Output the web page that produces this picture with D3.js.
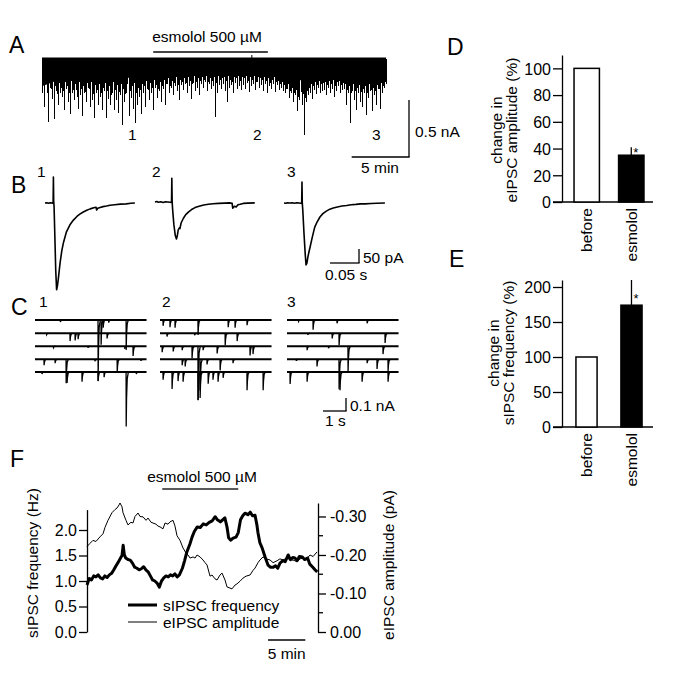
<!DOCTYPE html>
<html><head><meta charset="utf-8">
<script src="https://cdn.jsdelivr.net/npm/d3@7"></script>
<style>
body{margin:0;background:#fff}
svg{display:block;font-family:"Liberation Sans",Arial,Helvetica,sans-serif}
</style>
</head><body>
<svg id="fig" width="685" height="676"></svg>
<script>
// ---------------- DATA ----------------
// Panel A: continuous recording, 30 min
const aDurationMin = 30;
const aDrug = [9.7, 19.7];               // esmolol application (min)
const aArtifactTime = 18.3;               // small upward artifact (min)
const aBandDepth = [0.24,0.17,0.18,0.18,0.17,0.15,0.13,0.12,0.11,0.11,0.1,0.11,0.14,0.2,0.13,0.12,0.13,0.12]; // nA
const aSpikeDepth = [                     // nA, larger events, evenly sampled
0.30,0.42,0.22,0.55,0.25,0.35,0.53,0.28,0.40,0.30,
0.33,0.45,0.26,0.38,0.48,0.30,0.36,0.27,0.44,0.32,
0.50,0.30,0.38,0.25,0.42,0.36,0.52,0.30,0.40,0.33,
0.45,0.28,0.52,0.35,0.40,0.30,0.45,0.36,0.47,0.32,
0.58,0.38,0.30,0.50,0.34,0.44,0.56,0.40,0.33,0.48,
0.30,0.42,0.26,0.36,0.30,0.45,0.25,0.34,0.28,0.38,
0.26,0.40,0.22,0.30,0.25,0.32,0.24,0.28,0.36,0.23,
0.27,0.22,0.30,0.24,0.35,0.21,0.28,0.25,0.32,0.22,
0.25,0.20,0.28,0.22,0.26,0.24,0.51,0.30,0.23,0.26,
0.22,0.28,0.38,0.25,0.23,0.30,0.21,0.26,0.24,0.27,
0.23,0.26,0.21,0.29,0.24,0.22,0.27,0.20,0.25,0.23,
0.28,0.22,0.30,0.24,0.26,0.22,0.29,0.23,0.27,0.25,
0.28,0.30,0.26,0.34,0.30,0.38,0.32,0.46,0.36,0.40,
0.67,0.38,0.32,0.30,0.35,0.27,0.31,0.25,0.30,0.28,
0.27,0.32,0.25,0.30,0.26,0.33,0.28,0.24,0.30,0.27,
0.26,0.40,0.30,0.56,0.28,0.36,0.45,0.30,0.38,0.42,
0.30,0.49,0.34,0.28,0.46,0.32,0.40,0.26,0.44,0.30,
0.25,0.22];
const aSpikeDepth2 = [                    // nA, smaller events between the larger ones
0.22,0.18,0.30,0.20,0.26,0.19,0.24,0.31,0.21,0.25,
0.28,0.20,0.24,0.30,0.19,0.27,0.22,0.33,0.20,0.26,
0.24,0.29,0.21,0.26,0.20,0.31,0.23,0.27,0.22,0.30,
0.25,0.21,0.28,0.24,0.32,0.20,0.27,0.23,0.29,0.22,
0.26,0.31,0.22,0.28,0.24,0.21,0.30,0.25,0.27,0.22,
0.24,0.19,0.27,0.21,0.25,0.18,0.23,0.26,0.20,0.24,
0.18,0.22,0.17,0.24,0.19,0.21,0.16,0.23,0.18,0.20,
0.17,0.21,0.16,0.19,0.22,0.15,0.20,0.17,0.19,0.16,
0.18,0.15,0.20,0.17,0.19,0.16,0.21,0.15,0.18,0.17,
0.16,0.19,0.15,0.18,0.20,0.16,0.17,0.15,0.19,0.16,
0.17,0.15,0.19,0.16,0.18,0.15,0.20,0.16,0.17,0.18,
0.16,0.19,0.17,0.21,0.18,0.16,0.20,0.19,0.22,0.20,
0.23,0.26,0.22,0.28,0.25,0.30,0.27,0.33,0.29,0.31,
0.34,0.28,0.25,0.22,0.24,0.20,0.23,0.19,0.22,0.21,
0.20,0.23,0.19,0.22,0.18,0.24,0.20,0.19,0.23,0.21,
0.22,0.27,0.24,0.30,0.22,0.28,0.25,0.23,0.29,0.26,
0.24,0.30,0.22,0.27,0.25,0.28,0.23,0.26,0.21,0.24,
0.20];
const aMarkers = ["1","2","3"];

// Panel B: evoked IPSCs [ms, pA]
const bTrace1 = [[0,0],[3,1],[6,-1],[9,1],[12,0],[14,-1],[14.5,93],[15,2],[15.6,-10],[17,-120],[18.5,-240],[20,-310],[21.5,-295],[23,-270],[26,-214],[29,-170],[32,-140],[37,-103],[43,-78],[49,-61],[55,-48],[60,-40],[66,-32],[72,-26],[78,-21],[84,-17],[88,-15],[89,-25],[91,-19],[95,-16],[100,-13],[106,-11],[112,-8],[120,-6],[130,-4],[140,-3],[148,-1],[155,0]];
const bTrace2 = [[0,0],[3,2],[6,-1],[10,1],[14,-2],[18,1],[22,0],[26,-1],[28.5,-2],[29,85],[29.6,0],[30.5,-30],[32.5,-80],[35,-120],[37,-132],[38.5,-120],[40,-100],[42,-92],[43,-95],[45,-75],[49,-58],[53,-45],[58,-35],[63,-27],[69,-20],[76,-15],[84,-11],[92,-8],[100,-6],[110,-5],[120,-4],[128,-3],[133,-5],[134,-22],[137,-15],[140,-18],[143,-10],[147,-8],[152,-5],[160,-4],[172,-3]];
const bTrace3 = [[0,0],[3,-1],[6,1],[10,0],[14,1],[18,-1],[22,1],[26,0],[29,-1],[30.5,-2],[31,75],[31.5,2],[32.5,-30],[34.5,-110],[36.5,-180],[38,-221],[39.5,-215],[41,-195],[43,-175],[45,-157],[49,-120],[53,-86],[57,-68],[62,-50],[67,-38],[73,-29],[79,-22],[85,-18],[92,-14],[100,-11],[108,-9],[116,-6],[124,-5],[132,-3],[140,-3],[150,-2],[160,-1],[174,0]];

// Panel C: spontaneous IPSCs, 5 sweeps per period, events [s, pA]
const cSweepDuration = 4.85;
const cEventsGroup1 = [
 [[1.1,15],[2.74,470],[2.87,190],[2.96,60],[3.2,20],[3.96,230]],
 [[0.5,10],[1.52,60],[1.74,55],[1.87,45],[3.13,40]],
 [[0.8,10],[2.3,12],[3.9,20],[4.26,75]],
 [[0.39,45],[0.87,30],[1.35,185],[2.6,15],[3.57,100],[4.6,12]],
 [[0.3,15],[1.39,85],[2.04,75],[2.74,70],[3.0,40],[3.96,420],[4.4,15]]
];
const cEventsGroup2 = [
 [[0.13,45],[0.43,55],[0.65,60],[1.65,115],[2.96,55],[3.26,60],[3.78,40]],
 [[0.3,25],[1.5,15],[2.83,92],[3.35,60]],
 [[0.09,45],[0.57,40],[0.96,30],[1.39,92],[1.65,415],[1.87,30],[2.48,55],[3.91,70],[4.04,60]],
 [[0.96,45],[1.09,55],[1.74,240],[2.04,40],[2.61,85],[3.17,30]],
 [[0.13,60],[0.52,130],[0.78,70],[1.0,75],[1.65,215],[1.74,200],[2.09,90],[2.3,60],[2.52,75],[2.74,45],[3.78,140],[4.48,140]]
];
const cEventsGroup3 = [
 [[0.5,10],[1.13,75],[2.17,25],[3.48,25]],
 [[0.9,12],[1.96,40],[2.26,92],[4.26,75]],
 [[0.87,30],[1.8,15],[2.65,200],[4.17,60]],
 [[0.4,12],[1.30,55],[2.26,230],[3.48,30],[3.91,75],[4.39,92]],
 [[0.13,92],[0.87,75],[2.30,140],[3.26,75],[4.39,75]]
];

// Panel D / E: bar summaries
const barCategories = ["before","esmolol"];
const dMeans = [100, 35];
const dErrors = [0, 6];
const dTicks = [0,20,40,60,80,100];
const eMeans = [100, 174];
const eErrors = [0, 36];
const eTicks = [0,50,100,150,200];

// Panel F: time courses [min, value]
const fDrug = [10.1, 20.3];
const fFreqTicks = [0,0.5,1,1.5,2];
const fAmpTicks = [0,-0.1,-0.2,-0.3];
const fAmpMinorTicks = [-0.05,-0.15,-0.25];
const fFreq = [[0,0.92],[0.3,1.05],[0.6,1.02],[0.9,1.1],[1.2,1.08],[1.5,1.12],[1.8,1.06],[2.1,1.04],[2.4,1.1],[2.7,1.07],[3.0,1.12],[3.3,1.15],[3.6,1.22],[3.9,1.3],[4.2,1.37],[4.5,1.45],[4.7,1.5],[4.85,1.7],[5.0,1.52],[5.2,1.45],[5.5,1.42],[5.8,1.41],[6.1,1.35],[6.4,1.27],[6.7,1.25],[7.0,1.22],[7.3,1.24],[7.6,1.28],[7.9,1.22],[8.2,1.18],[8.5,1.1],[8.8,1.02],[9.1,1.0],[9.4,0.96],[9.7,0.88],[10.0,1.0],[10.3,1.06],[10.6,1.1],[10.9,1.08],[11.2,1.12],[11.5,1.1],[11.8,1.14],[12.1,1.08],[12.4,1.12],[12.8,1.25],[13.1,1.4],[13.4,1.57],[13.8,1.72],[14.1,1.86],[14.4,1.97],[14.8,2.06],[15.2,2.05],[15.6,2.12],[16.0,2.1],[16.4,2.15],[16.8,2.18],[17.2,2.26],[17.5,2.2],[17.9,2.16],[18.2,2.2],[18.5,2.24],[18.8,2.05],[19.0,1.85],[19.3,1.8],[19.6,1.84],[20.0,1.86],[20.3,1.95],[20.6,2.2],[20.9,2.28],[21.2,2.33],[21.6,2.3],[21.9,2.35],[22.2,2.28],[22.55,2.29],[22.8,2.1],[22.95,1.94],[23.2,1.75],[23.5,1.65],[23.9,1.47],[24.3,1.31],[24.6,1.27],[25.0,1.27],[25.3,1.3],[25.6,1.25],[25.9,1.35],[26.3,1.4],[26.6,1.38],[27.0,1.51],[27.3,1.42],[27.6,1.46],[27.9,1.45],[28.2,1.4],[28.5,1.48],[28.9,1.47],[29.2,1.42],[29.6,1.45],[29.9,1.33],[30.3,1.27],[30.6,1.22],[30.9,1.18]];
const fAmp = [[0,-0.222],[0.4,-0.23],[0.8,-0.238],[1.2,-0.235],[1.74,-0.247],[2.15,-0.255],[2.42,-0.272],[2.82,-0.29],[3.36,-0.31],[3.76,-0.318],[4.03,-0.322],[4.3,-0.33],[4.43,-0.335],[4.7,-0.325],[4.83,-0.31],[5.23,-0.29],[5.5,-0.278],[5.9,-0.285],[6.17,-0.283],[6.44,-0.3],[6.85,-0.309],[7.11,-0.3],[7.52,-0.299],[7.92,-0.29],[8.19,-0.296],[8.59,-0.285],[8.86,-0.283],[9.26,-0.28],[9.53,-0.275],[9.8,-0.273],[10.2,-0.268],[10.47,-0.283],[10.87,-0.28],[11.14,-0.286],[11.54,-0.29],[11.81,-0.275],[12.08,-0.25],[12.48,-0.238],[12.89,-0.218],[13.29,-0.205],[13.56,-0.2],[13.83,-0.192],[14.23,-0.195],[14.5,-0.192],[14.77,-0.2],[15.17,-0.195],[15.57,-0.187],[15.84,-0.18],[16.11,-0.174],[16.51,-0.145],[16.78,-0.148],[17.18,-0.138],[17.45,-0.135],[17.85,-0.148],[18.12,-0.153],[18.52,-0.135],[18.79,-0.117],[19.19,-0.114],[19.46,-0.112],[19.87,-0.122],[20.13,-0.125],[20.54,-0.132],[20.94,-0.14],[21.34,-0.145],[21.88,-0.148],[22.28,-0.16],[22.55,-0.166],[22.95,-0.18],[23.22,-0.187],[23.62,-0.195],[24.03,-0.19],[24.56,-0.187],[24.97,-0.18],[25.5,-0.185],[25.9,-0.19],[26.31,-0.187],[26.85,-0.192],[27.25,-0.188],[27.79,-0.186],[28.19,-0.182],[28.59,-0.19],[29.0,-0.192],[29.4,-0.188],[29.93,-0.2],[30.34,-0.196],[30.87,-0.208]];

// ---------------- DRAWING ----------------
const svg = d3.select("#fig");
const FS = 15.5, FT = 16, FL = 23;
function text(x, y, s, o = {}) {
  const t = svg.append("text").attr("x", x).attr("y", y).text(s)
    .attr("font-size", o.fs || FS).attr("fill", "#000")
    .attr("text-anchor", o.anchor || "start");
  if (o.rot) t.attr("transform", `rotate(${o.rot},${x},${y})`);
  return t;
}
function seg(x1, y1, x2, y2, w = 1.3, c = "#000") {
  svg.append("line").attr("x1", x1).attr("y1", y1).attr("x2", x2).attr("y2", y2)
    .attr("stroke", c).attr("stroke-width", w);
}
function styleAxis(g, fs) {
  g.attr("font-size", fs).attr("font-family", null);
  g.selectAll("path,line").attr("stroke", "#000").attr("stroke-width", 1.3);
  g.selectAll("text").attr("fill", "#000");
}

// Panel letters
text(9, 53, "A", {fs: FL});
text(11, 193, "B", {fs: FL});
text(11, 315, "C", {fs: FL});
text(447, 55, "D", {fs: FL});
text(449, 267, "E", {fs: FL});
text(10, 467, "F", {fs: FL});

// ----- Panel A -----
const xA = d3.scaleLinear().domain([0, aDurationMin]).range([42, 386]);
const yA = d3.scaleLinear().domain([0, 1]).range([59, 173]);
const gA = svg.append("g");
gA.append("path").datum(aBandDepth)
  .attr("d", d3.area().x((d, i) => xA(i * aDurationMin / (aBandDepth.length - 1))).y0(yA(0)).y1(d => yA(d)))
  .attr("fill", "#000");
const aStep = aDurationMin / (aSpikeDepth.length - 1);
function spikes(data, offset, cls) {
  gA.selectAll("line." + cls).data(data).join("line").attr("class", cls)
    .attr("x1", (d, i) => Math.round(xA((i + offset) * aStep)) + 0.5)
    .attr("x2", (d, i) => Math.round(xA((i + offset) * aStep)) + 0.5)
    .attr("y1", yA(0)).attr("y2", d => yA(d))
    .attr("stroke", "#000").attr("stroke-width", 1).attr("shape-rendering", "crispEdges");
}
spikes(aSpikeDepth, 0, "sp1");
spikes(aSpikeDepth2, 0.5, "sp2");
gA.append("line").attr("x1", xA(0)).attr("x2", xA(aDurationMin)).attr("y1", yA(0)).attr("y2", yA(0))
  .attr("stroke", "#000").attr("stroke-width", 3);
gA.append("line").attr("x1", xA(aArtifactTime)).attr("x2", xA(aArtifactTime)).attr("y1", yA(0)).attr("y2", yA(0) - 4)
  .attr("stroke", "#000").attr("stroke-width", 1);
seg(xA(aDrug[0]), 52, xA(aDrug[1]), 52, 1.8, "#444");
text(207, 42, "esmolol 500 µM", {anchor: "middle"});
const aMarkX = [128, 253, 372];
aMarkers.forEach((m, i) => text(aMarkX[i], 140, m));
// scale bar A
{
  const cx = 409, cy = 157;
  seg(cx, cy, cx, cy - (yA(0.5) - yA(0)), 1.3);
  seg(cx + 0.6, cy, cx - (xA(5) - xA(0)), cy, 1.3);
  text(415, 137, "0.5 nA");
  text(380, 173, "5 min", {anchor: "middle"});
}

// ----- Panel B -----
const xB = d3.scaleLinear().domain([0, 50]).range([0, 29]);   // ms -> px
const yB = d3.scaleLinear().domain([0, 50]).range([0, -14]);  // pA -> px
const bOrigins = [[45, 203], [155, 202], [284, 203]];
[bTrace1, bTrace2, bTrace3].forEach((tr, i) => {
  const [x0, y0] = bOrigins[i];
  svg.append("path").datum(tr)
    .attr("d", d3.line().x(d => x0 + xB(d[0])).y(d => y0 + yB(d[1])))
    .attr("fill", "none").attr("stroke", "#000").attr("stroke-width", 1.6).attr("stroke-linejoin", "round");
});
[[37, "1"], [152, "2"], [287, "3"]].forEach(([x, s]) => text(x, 177, s));
{
  const cx = 359, cy = 263;
  seg(cx, cy, cx, cy + yB(50), 1.3);
  seg(cx + 0.6, cy, cx - xB(50), cy, 1.3);
  text(363, 263, "50 pA");
  text(325, 280, "0.05 s");
}

// ----- Panel C -----
const xC = d3.scaleLinear().domain([0, 1]).range([0, 23]);    // s -> px
const yC = d3.scaleLinear().domain([0, 100]).range([0, 13]);  // pA -> px
const cX0 = [35, 160, 287];
const cRowY = [320, 333.3, 346.3, 359.3, 372];
[cEventsGroup1, cEventsGroup2, cEventsGroup3].forEach((grp, gi) => {
  const x0 = cX0[gi];
  grp.forEach((evs, ri) => {
    const y0 = cRowY[ri];
    svg.append("line").attr("x1", x0).attr("x2", x0 + xC(cSweepDuration))
      .attr("y1", y0).attr("y2", y0).attr("stroke", "#000").attr("stroke-width", 2);
    evs.forEach(([t, a]) => {
      const pts = [[t, 0], [t + 0.005, a], [t + 0.02, a * 0.5], [t + 0.05, a * 0.12], [t + 0.1, 0]];
      svg.append("path")
        .attr("d", d3.line().x(d => x0 + xC(d[0])).y(d => y0 + yC(d[1]))(pts))
        .attr("fill", "none").attr("stroke", "#000").attr("stroke-width", 1.3);
    });
  });
});
[[39, "1"], [162, "2"], [287, "3"]].forEach(([x, s]) => text(x, 307, s));
{
  const cx = 346, cy = 411;
  seg(cx, cy, cx, cy - yC(100), 1.3);
  seg(cx + 0.6, cy, cx - xC(1), cy, 1.3);
  text(350, 411, "0.1 nA");
  text(325, 426, "1 s");
}

// ----- Panel D & E -----
function barPanel(o) {
  const y = d3.scaleLinear().domain(o.domain).range(o.range);
  const x = d3.scaleBand().domain(barCategories).range([562, 656])
    .paddingInner(o.pi).paddingOuter(o.po);
  const g = svg.append("g").attr("transform", "translate(562,0)");
  g.call(d3.axisLeft(y).tickValues(o.ticks).tickSize(9).tickSizeOuter(0).tickPadding(2));
  styleAxis(g, FT);
  g.selectAll(".tick text").attr("dy", "0.36em");
  seg(553, y(0), 653, y(0), 1.3);
  barCategories.forEach((c, i) => {
    if (o.err[i] > 0) seg(x(c) + x.bandwidth() / 2, y(o.means[i]), x(c) + x.bandwidth() / 2, y(o.means[i] + o.err[i]), 1.3);
    svg.append("rect").attr("x", x(c)).attr("y", y(o.means[i]))
      .attr("width", x.bandwidth()).attr("height", y(0) - y(o.means[i]))
      .attr("fill", i === 0 ? "#fff" : "#000").attr("stroke", "#000").attr("stroke-width", 1.5);
    text(x(c) + x.bandwidth() / 2 + 5.5, y(0) + 6, c, {rot: -90, anchor: "end"});
    if (o.err[i] > 0) text(x(c) + x.bandwidth() / 2 + 2, y(o.means[i] + o.err[i]) + o.starDy, "*", {fs: 13});
  });
  text(o.labX, o.labY, "change in", {rot: -90, anchor: "middle"});
  text(o.labX + 15, o.labY, o.title, {rot: -90, anchor: "middle"});
}
barPanel({domain: [0, 110], range: [202, 55], ticks: dTicks, means: dMeans, err: dErrors,
  pi: 0.43, po: 0.27, labX: 502, labY: 130, title: "eIPSC amplitude (%)", starDy: 10});
barPanel({domain: [0, 210], range: [427, 280], ticks: eTicks, means: eMeans, err: eErrors,
  pi: 0.53, po: 0.31, labX: 499, labY: 353, title: "sIPSC frequency (%)", starDy: 23});

// ----- Panel F -----
const xF = d3.scaleLinear().domain([0, 31]).range([87, 318]);
const yF = d3.scaleLinear().domain([0, 2.4]).range([632, 509.6]);
const yR = d3.scaleLinear().domain([0, -0.335]).range([632, 503]);
const gL = svg.append("g").attr("transform", "translate(87,0)");
gL.call(d3.axisLeft(yF).tickValues(fFreqTicks).tickFormat(d => d.toFixed(1)).tickSize(8).tickSizeOuter(0).tickPadding(2));
styleAxis(gL, FT);
const gR = svg.append("g").attr("transform", "translate(318,0)");
gR.call(d3.axisRight(yR).tickValues(fAmpTicks).tickFormat(d => d.toFixed(2)).tickSize(8).tickSizeOuter(0).tickPadding(4));
styleAxis(gR, FT);
fAmpMinorTicks.forEach(v => seg(318, yR(v), 323, yR(v), 1.3));

svg.append("path").datum(fAmp)
  .attr("d", d3.line().x(d => xF(d[0])).y(d => yR(d[1])))
  .attr("fill", "none").attr("stroke", "#000").attr("stroke-width", 1);
svg.append("path").datum(fFreq)
  .attr("d", d3.line().x(d => xF(d[0])).y(d => yF(d[1])))
  .attr("fill", "none").attr("stroke", "#000").attr("stroke-width", 3).attr("stroke-linejoin", "round");

seg(xF(fDrug[0]), 489, xF(fDrug[1]), 489, 1.5, "#222");
text(202, 482, "esmolol 500 µM", {anchor: "middle"});
// legend
seg(128, 605, 157, 605, 3);
text(163, 610.5, "sIPSC frequency");
seg(128, 622, 157, 622, 1);
text(163, 627.5, "eIPSC amplitude");
// axis titles
text(38, 563, "sIPSC frequency (Hz)", {rot: -90, anchor: "middle"});
text(394, 565, "eIPSC amplitude (pA)", {rot: -90, anchor: "middle"});
// scale bar
seg(xF(24.3), 640, xF(24.3) + (xF(5) - xF(0)), 640, 1.3);
text(xF(24.3) + (xF(5) - xF(0)) / 2, 659, "5 min", {anchor: "middle"});
</script>
</body></html>
